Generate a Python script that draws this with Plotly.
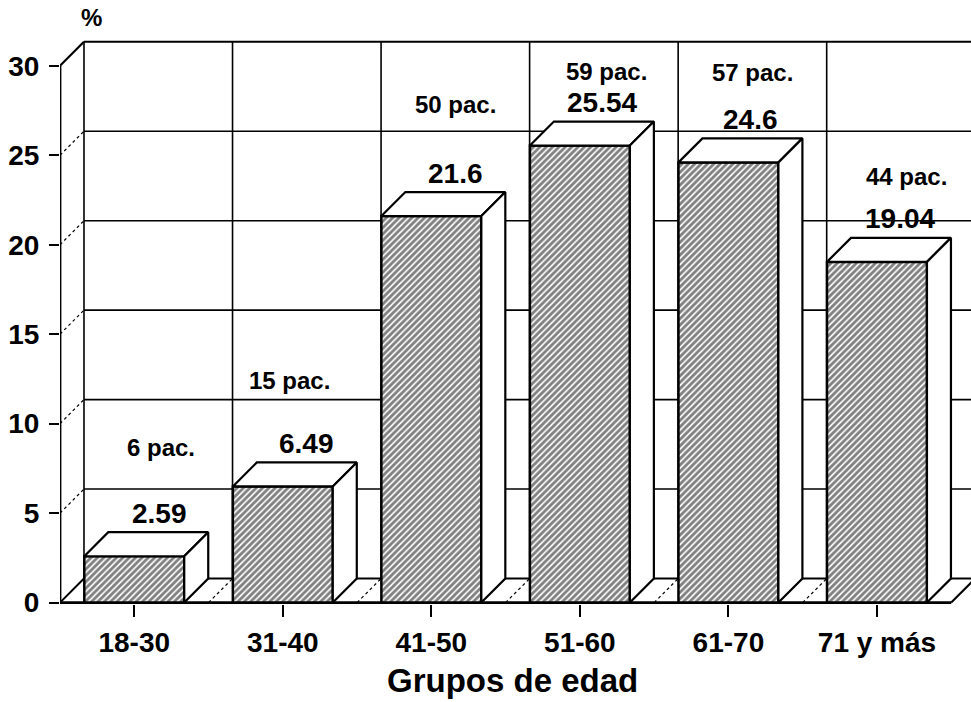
import plotly.graph_objects as go

# ---------------- data ----------------
categories = ["18-30", "31-40", "41-50", "51-60", "61-70", "71 y más"]
percent = [2.59, 6.49, 21.6, 25.54, 24.6, 19.04]
patients = [6, 15, 50, 59, 57, 44]
y_ticks = [0, 5, 10, 15, 20, 25, 30]

# ---------------- layout / style constants ----------------
FONT = "Liberation Sans"
BAR_W = 0.673          # front-face width (category units)
DX = 0.1615            # depth offset in category units
DY = 1.343             # depth offset in value units
YMAX = 30
PAC_LIFT_PX = [109, 106, 112, 74, 90, 85]
PAC_XSHIFT_PX = [27, 7, 24, 27, 24, 30]
VAL_XSHIFT_PX = [25, 24, 24, 22, 22, 23]

n = len(categories)
xs = list(range(n))
x_lo = -0.5
x_hi = n - 0.5

fig = go.Figure()

# front faces with hatching
fig.add_trace(go.Bar(
    x=xs, y=percent, width=BAR_W,
    marker=dict(color="white",
                line=dict(color="black", width=2.5),
                pattern=dict(shape="/", fgcolor="black", bgcolor="white",
                             size=4.5, solidity=0.62)),
    hoverinfo="skip", showlegend=False,
))

# top and side faces
hw = BAR_W / 2
for i, v in zip(xs, percent):
    top_x = [i - hw, i + hw, i + hw + DX, i - hw + DX, i - hw]
    top_y = [v, v, v + DY, v + DY, v]
    side_x = [i + hw, i + hw + DX, i + hw + DX, i + hw, i + hw]
    side_y = [0, DY, v + DY, v, 0]
    for px, py in ((top_x, top_y), (side_x, side_y)):
        fig.add_trace(go.Scatter(
            x=px, y=py, mode="lines", fill="toself", fillcolor="white",
            line=dict(color="black", width=2.2),
            hoverinfo="skip", showlegend=False,
        ))

shapes = []
def seg(x0, y0, x1, y1, width=1.5, dash="solid"):
    shapes.append(dict(type="line", xref="x", yref="y", x0=x0, y0=y0, x1=x1, y1=y1,
                       line=dict(color="black", width=width, dash=dash), layer="below"))

# back wall
seg(x_lo + DX, YMAX + DY, x_hi + DX + 1, YMAX + DY, width=2.2)
for t in y_ticks[1:-1]:
    seg(x_lo + DX, t + DY, x_hi + DX + 1, t + DY, width=1.6)
for k in range(n + 1):
    seg(x_lo + k + DX, DY, x_lo + k + DX, YMAX + DY, width=1.6)
# floor
seg(x_lo, 0, x_hi, 0, width=2.8)
seg(x_lo + DX, DY, x_hi + DX + 1, DY, width=2)
for k in range(n + 1):
    edge = k in (0, n)
    seg(x_lo + k, 0, x_lo + k + DX, DY, width=2 if edge else 1.2,
        dash="solid" if edge else "dot")
# left side wall
seg(x_lo, 0, x_lo, YMAX, width=2.8)
seg(x_lo, YMAX, x_lo + DX, YMAX + DY, width=2.2)
for t in y_ticks[1:-1]:
    seg(x_lo, t, x_lo + DX, t + DY, width=1.2, dash="dot")

annotations = []
for i, (v, p) in enumerate(zip(percent, patients)):
    annotations.append(dict(
        x=i, y=v, xref="x", yref="y", text=f"{v:g}", showarrow=False,
        xshift=VAL_XSHIFT_PX[i], yshift=43, yanchor="middle",
        font=dict(family=FONT, size=28, color="black", weight="bold")))
    annotations.append(dict(
        x=i, y=v, xref="x", yref="y", text=f"{p} pac.", showarrow=False,
        xshift=PAC_XSHIFT_PX[i], yshift=PAC_LIFT_PX[i], yanchor="middle",
        font=dict(family=FONT, size=24, color="black", weight="bold")))

annotations.append(dict(
    x=0.497, y=-0.135, xref="paper", yref="paper", text="Grupos de edad",
    showarrow=False, xanchor="center", yanchor="middle",
    font=dict(family=FONT, size=33, color="black", weight="bold")))
annotations.append(dict(
    x=0.035, y=1.03, xref="paper", yref="paper", text="%",
    showarrow=False, xanchor="center", yanchor="middle",
    font=dict(family=FONT, size=24, color="black", weight="bold")))

fig.update_layout(
    width=971, height=702,
    margin=dict(l=60, r=0, t=35, b=98),
    paper_bgcolor="white", plot_bgcolor="white",
    shapes=shapes, annotations=annotations,
    xaxis=dict(range=[x_lo, 5.633], tickvals=xs, ticktext=categories,
               ticks="outside", ticklen=12, tickwidth=2, tickcolor="black",
               showgrid=False, zeroline=False, showline=False,
               ticklabelstandoff=1,
               tickfont=dict(family=FONT, size=28, color="black", weight="bold")),
    yaxis=dict(range=[-0.08, 31.72], tickvals=y_ticks,
               ticks="outside", ticklen=10, tickwidth=2, tickcolor="black",
               showgrid=False, zeroline=False, showline=False,
               ticklabelstandoff=4,
               tickfont=dict(family=FONT, size=28, color="black", weight="bold")),
    showlegend=False,
)

fig.write_html("out.html")
